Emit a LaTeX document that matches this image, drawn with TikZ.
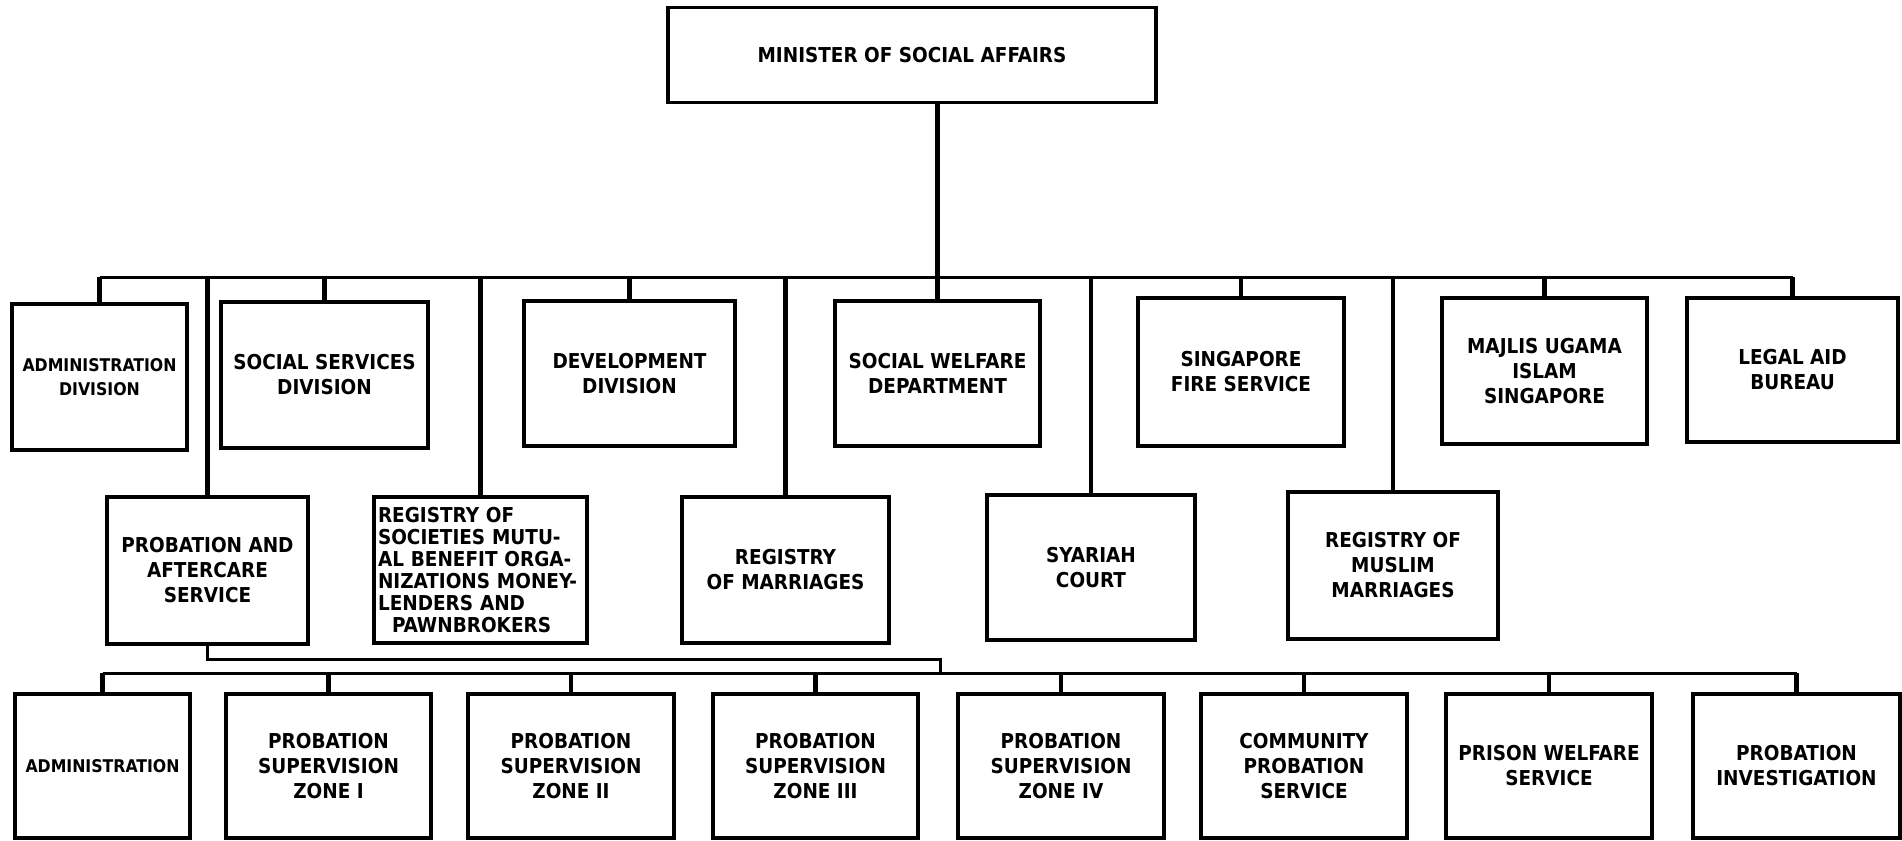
\documentclass[tikz,border=0pt]{standalone}
\usepackage{fontspec}
\setmainfont{DejaVu Sans Condensed}
\tikzset{
  chart box/.style={
    rectangle, draw=black, line width=3.4pt, align=center,
    minimum width=206pt, minimum height=146pt, inner sep=3pt,
    font=\fontsize{20.5}{25}\selectfont\bfseries
  },
  chart line/.style={line width=4.4pt, black},
  chart bus/.style={line width=3pt, black}
}

\begin{document}
\begin{tikzpicture}[x=1pt,y=-1pt]
  \useasboundingbox[fill=white] (0,0) rectangle (1902,840);
  \node[chart box, minimum width=488pt, minimum height=95pt] (minister) at (912,55) {MINISTER OF SOCIAL AFFAIRS};

  \node[chart box, minimum width=175pt, font=\fontsize{17.5}{24}\selectfont\bfseries] (admdiv) at (99.5,377) {ADMINISTRATION\\DIVISION};
  \node[chart box, minimum width=207pt] (socsvc) at (324.5,375) {SOCIAL SERVICES\\DIVISION};
  \node[chart box, minimum width=211pt, minimum height=145pt] (devdiv) at (629.5,373.5) {DEVELOPMENT\\DIVISION};
  \node[chart box, minimum width=205pt, minimum height=145pt] (swd) at (937.5,373.5) {SOCIAL WELFARE\\DEPARTMENT};
  \node[chart box, minimum height=148pt] (fire) at (1241,372) {SINGAPORE\\FIRE SERVICE};
  \node[chart box, minimum width=205pt] (majlis) at (1544.5,371) {MAJLIS UGAMA\\ISLAM\\SINGAPORE};
  \node[chart box, minimum width=211pt, minimum height=144pt] (legal) at (1792.5,370) {LEGAL AID\\BUREAU};

  \node[chart box, minimum width=201pt, minimum height=147pt] (prob) at (207.5,570.5) {PROBATION AND\\AFTERCARE\\SERVICE};
  \node[chart box, minimum width=213pt, text width=205pt, inner sep=3pt, align=left,
    font=\fontsize{20.5}{22}\selectfont\bfseries] (regsoc) at (480.5,570) {REGISTRY OF\\SOCIETIES MUTU-\\AL BENEFIT ORGA-\\NIZATIONS MONEY-\\LENDERS AND\\\hspace*{14pt}PAWNBROKERS};
  \node[chart box, minimum width=207pt] (regmar) at (785.5,570) {REGISTRY\\OF MARRIAGES};
  \node[chart box, minimum width=208pt, minimum height=145pt] (syariah) at (1091,567.5) {SYARIAH\\COURT};
  \node[chart box, minimum width=210pt, minimum height=147pt] (muslim) at (1393,565.5) {REGISTRY OF\\MUSLIM\\MARRIAGES};

  \node[chart box, minimum width=175pt, minimum height=144pt, font=\fontsize{17.5}{24}\selectfont\bfseries] (adm) at (102.5,766) {ADMINISTRATION};
  \node[chart box, minimum width=205pt, minimum height=144pt] (zone1) at (328.5,766) {PROBATION\\SUPERVISION\\ZONE I};
  \node[chart box, minimum height=144pt] (zone2) at (571,766) {PROBATION\\SUPERVISION\\ZONE II};
  \node[chart box, minimum width=205pt, minimum height=144pt] (zone3) at (815.5,766) {PROBATION\\SUPERVISION\\ZONE III};
  \node[chart box, minimum height=144pt] (zone4) at (1061,766) {PROBATION\\SUPERVISION\\ZONE IV};
  \node[chart box, minimum height=144pt] (community) at (1304,766) {COMMUNITY\\PROBATION\\SERVICE};
  \node[chart box, minimum height=144pt] (prison) at (1549,766) {PRISON WELFARE\\SERVICE};
  \node[chart box, minimum width=207pt, minimum height=144pt] (invest) at (1796.5,766) {PROBATION\\INVESTIGATION};

  \coordinate (bus top) at (0,277);
  \coordinate (bend) at (940,659);
  \coordinate (bus low) at (0,673);

  \draw[chart line] (minister.south -| swd.north) -- (swd.north);
  \draw[chart bus] (admdiv.north |- bus top) -- (legal.north |- bus top);
  \foreach \unit in {admdiv,socsvc,devdiv,fire,majlis,legal,prob,regsoc,regmar,syariah,muslim}
    \draw[chart line] (\unit.north) -- (\unit.north |- bus top);

  \draw[chart bus] (prob.south) |- (bend) -- (bend |- bus low);
  \draw[chart bus] (adm.north |- bus low) -- (invest.north |- bus low);
  \foreach \unit in {adm,zone1,zone2,zone3,zone4,community,prison,invest}
    \draw[chart line] (\unit.north) -- (\unit.north |- bus low);
\end{tikzpicture}
\end{document}
